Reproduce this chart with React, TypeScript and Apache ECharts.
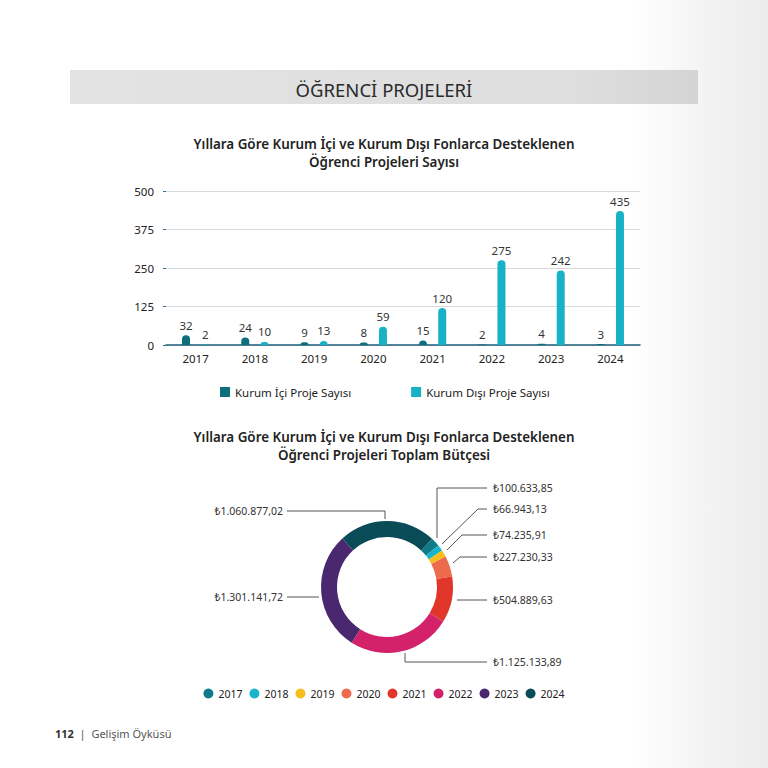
import React, { useEffect, useRef } from "react";
import * as echarts from "echarts";

const years = ["2017", "2018", "2019", "2020", "2021", "2022", "2023", "2024"];
const kurumIci = [32, 24, 9, 8, 15, 2, 4, 3];
const kurumDisi = [2, 10, 13, 59, 120, 275, 242, 435];
const yTicks = [0, 125, 250, 375, 500];
const budget = [100633.85, 66943.13, 74235.91, 227230.33, 504889.63, 1125133.89, 1301141.72, 1060877.02];

const seriesNames = ["Kurum İçi Proje Sayısı", "Kurum Dışı Proje Sayısı"];
const barColors = ["#0d6e7c", "#17b2c6"];
const pieColors = ["#0f7a88", "#19b5cc", "#f6bd1c", "#ec6b4c", "#e1372a", "#d3226a", "#4a2870", "#0a4b58"];

const FONT = "Noto Sans";

function fmtTL(v: number): string {
  const fixed = v.toFixed(2);
  const [intPart, dec] = fixed.split(".");
  const withDots = intPart.replace(/\B(?=(\d{3})+(?!\d))/g, ".");
  return "₺" + withDots + "," + dec;
}

// label positions (layout only)
const labelSpots: { x: number; y: number; align: string; pts: number[][] }[] = [
  { x: 493, y: 488, align: "left", pts: [[437, 538], [437, 488], [487, 488]] },
  { x: 493, y: 509, align: "left", pts: [[442, 544], [478, 509], [487, 509]] },
  { x: 493, y: 535, align: "left", pts: [[447, 550], [462, 535], [487, 535]] },
  { x: 493, y: 557, align: "left", pts: [[453, 563], [460, 557], [487, 557]] },
  { x: 493, y: 600, align: "left", pts: [[457, 600], [472, 600], [487, 600]] },
  { x: 493, y: 662, align: "left", pts: [[405, 653], [405, 662], [487, 662]] },
  { x: 283, y: 597, align: "right", pts: [[319, 597], [303, 597], [287, 597]] },
  { x: 283, y: 511, align: "right", pts: [[385, 519], [385, 511], [287, 511]] },
];

export default function App() {
  const ref = useRef<HTMLDivElement>(null);
  useEffect(() => {
    if (!ref.current) return;
    const chart = echarts.init(ref.current, null, { renderer: "svg" });
    const titleStyle = { fontSize: 13.4, fontWeight: 600, color: "#222", lineHeight: 18, fontFamily: FONT };
    const option: any = {
      animation: false,
      textStyle: { fontFamily: FONT },
      graphic: [
        {
          type: "rect",
          shape: { x: 70, y: 70, width: 628, height: 34 },
          style: {
            fill: new echarts.graphic.LinearGradient(0, 0, 1, 0, [
              { offset: 0, color: "#e3e3e3" },
              { offset: 0.8, color: "#dedede" },
              { offset: 1, color: "#d4d4d4" },
            ]),
          },
          z: 0,
        },
        {
          type: "text",
          x: 384,
          y: 89,
          style: {
            text: "ÖĞRENCİ PROJELERİ",
            fill: "#2a2a2a",
            font: `400 18.5px "${FONT}"`,
            align: "center",
            verticalAlign: "middle",
          },
        },
        {
          type: "text",
          x: 55,
          y: 733,
          style: {
            text: "{b|112}  |  Gelişim Öyküsü",
            verticalAlign: "middle",
            rich: {
              b: { fontWeight: "bold", fontSize: 11, fill: "#333", fontFamily: FONT },
            },
            fill: "#555",
            font: `400 11px "${FONT}"`,
          },
        },
      ],
      title: [
        {
          text: "Yıllara Göre Kurum İçi ve Kurum Dışı Fonlarca Desteklenen\nÖğrenci Projeleri Sayısı",
          left: "center",
          top: 130,
          textStyle: titleStyle,
        },
        {
          text: "Yıllara Göre Kurum İçi ve Kurum Dışı Fonlarca Desteklenen\nÖğrenci Projeleri Toplam Bütçesi",
          left: "center",
          top: 423,
          textStyle: titleStyle,
        },
      ],
      legend: [
        {
          data: seriesNames,
          left: 215,
          top: 381,
          icon: "rect",
          itemWidth: 10,
          itemHeight: 10,
          itemGap: 60,
          textStyle: { fontSize: 11.5, color: "#222", fontFamily: FONT },
        },
        {
          data: years,
          left: "center",
          top: 683,
          icon: "circle",
          itemWidth: 10,
          itemHeight: 10,
          itemGap: 7,
          textStyle: { fontSize: 10.5, color: "#222", fontFamily: FONT },
        },
      ],
      grid: { left: 166, right: 128, top: 191, bottom: 423, containLabel: false },
      xAxis: {
        type: "category",
        data: years,
        axisLine: { lineStyle: { color: "#1c5d78", width: 1.5 } },
        axisTick: { show: false },
        axisLabel: { fontSize: 11.5, color: "#222", margin: 7, fontFamily: FONT },
      },
      yAxis: {
        type: "value",
        min: yTicks[0],
        max: yTicks[yTicks.length - 1],
        interval: yTicks[1] - yTicks[0],
        axisLine: { show: false },
        axisTick: { show: true, length: 3, lineStyle: { color: "#2c6f9c", width: 1 } },
        splitLine: { lineStyle: { color: "#d9d9d9", width: 1 } },
        axisLabel: { fontSize: 11.5, color: "#222", margin: 12, fontFamily: FONT },
      },
      series: [
        {
          name: seriesNames[0],
          type: "bar",
          data: kurumIci,
          barWidth: 8,
          barGap: "140%",
          itemStyle: { color: barColors[0], borderRadius: [4, 4, 0, 0] },
          label: { show: true, position: "top", fontSize: 11.5, color: "#333", distance: 4, fontFamily: FONT },
        },
        {
          name: seriesNames[1],
          type: "bar",
          data: kurumDisi,
          barWidth: 8,
          itemStyle: { color: barColors[1], borderRadius: [4, 4, 0, 0] },
          label: { show: true, position: "top", fontSize: 11.5, color: "#333", distance: 4, fontFamily: FONT },
        },
        {
          name: "Bütçe",
          type: "pie",
          center: [387, 587],
          radius: [50, 66],
          startAngle: 47,
          clockwise: true,
          data: years.map((y, i) => ({ name: y, value: budget[i], itemStyle: { color: pieColors[i] } })),
          label: {
            show: true,
            position: "outside",
            formatter: (p: any) => fmtTL(p.value),
            fontSize: 10.5,
            color: "#333",
            fontFamily: FONT,
          },
          labelLine: { show: true, lineStyle: { color: "#555", width: 1 } },
          labelLayout: (p: any) => {
            const s = labelSpots[p.dataIndex];
            return {
              x: s.x,
              y: s.y,
              align: s.align,
              verticalAlign: "middle",
              labelLinePoints: s.pts,
            };
          },
          emphasis: { disabled: true },
        },
      ],
    };
    chart.setOption(option);
    return () => chart.dispose();
  }, []);
  return (
    <div
      style={{
        position: "fixed",
        left: 0,
        top: 0,
        width: 768,
        height: 768,
        background: "linear-gradient(90deg, #ffffff 0%, #ffffff 82%, #f3f3f3 92%, #ececec 100%)",
      }}
    >
      <div ref={ref} style={{ width: 768, height: 768 }} />
    </div>
  );
}
